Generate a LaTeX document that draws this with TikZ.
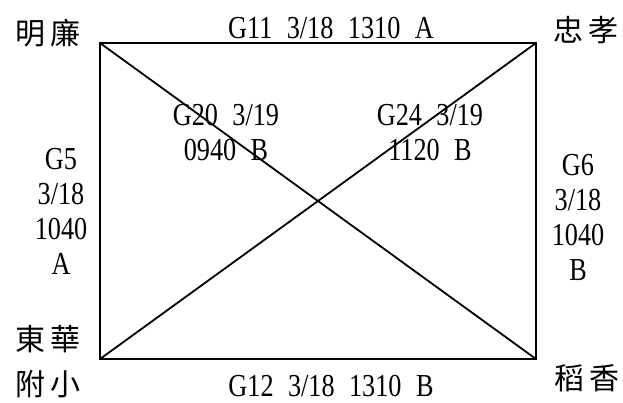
\documentclass[tikz,border=0pt]{standalone}
\usepackage{fontspec}
\setmainfont{Liberation Serif}[FakeStretch=0.82,WordSpace=2.2]
\newfontfamily\cjk{Noto Sans CJK TC}[LetterSpace=14]
\tikzset{
  school/.style = {font=\cjk\fontsize{30}{45}\selectfont, inner sep=0pt,
                   align=center},
  game/.style   = {font=\fontsize{32}{35}\selectfont, inner sep=0pt,
                   align=center},
  edge/.style   = {line width=1.8pt}
}

\begin{document}
\begin{tikzpicture}[x=1pt,y=-1pt]
  \useasboundingbox (0,0) rectangle (623,402);
  % corners of the field
  \coordinate (ml) at (100,43);
  \coordinate (zx) at (536,43);
  \coordinate (dh) at (100,359);
  \coordinate (dx) at (536,359);
  \draw[edge] (ml) -- (zx) -- (dx) -- (dh) -- cycle;
  \draw[edge] (ml) -- (dx);
  \draw[edge] (zx) -- (dh);
  % schools
  \node[school] (minglian) at (48,33) {明廉};
  \node[school] (zhongxiao) at (586,30) {忠孝};
  \node[school] (donghua) at (48,362) {東華\\附小};
  \node[school] (daoxiang) at (587,378) {稻香};
  % games
  \node[game] (g11) at (331,28) {G11 3/18 1310 A};
  \node[game] (g12) at (331,386) {G12 3/18 1310 B};
  \node[game] (g5) at (61,211) {G5\\3/18\\1040\\A};
  \node[game] (g6) at (578,217) {G6\\3/18\\1040\\B};
  \node[game] (g20) at (226,133) {G20 3/19\\0940 B};
  \node[game] (g24) at (430,133) {G24 3/19\\1120 B};
\end{tikzpicture}
\end{document}
